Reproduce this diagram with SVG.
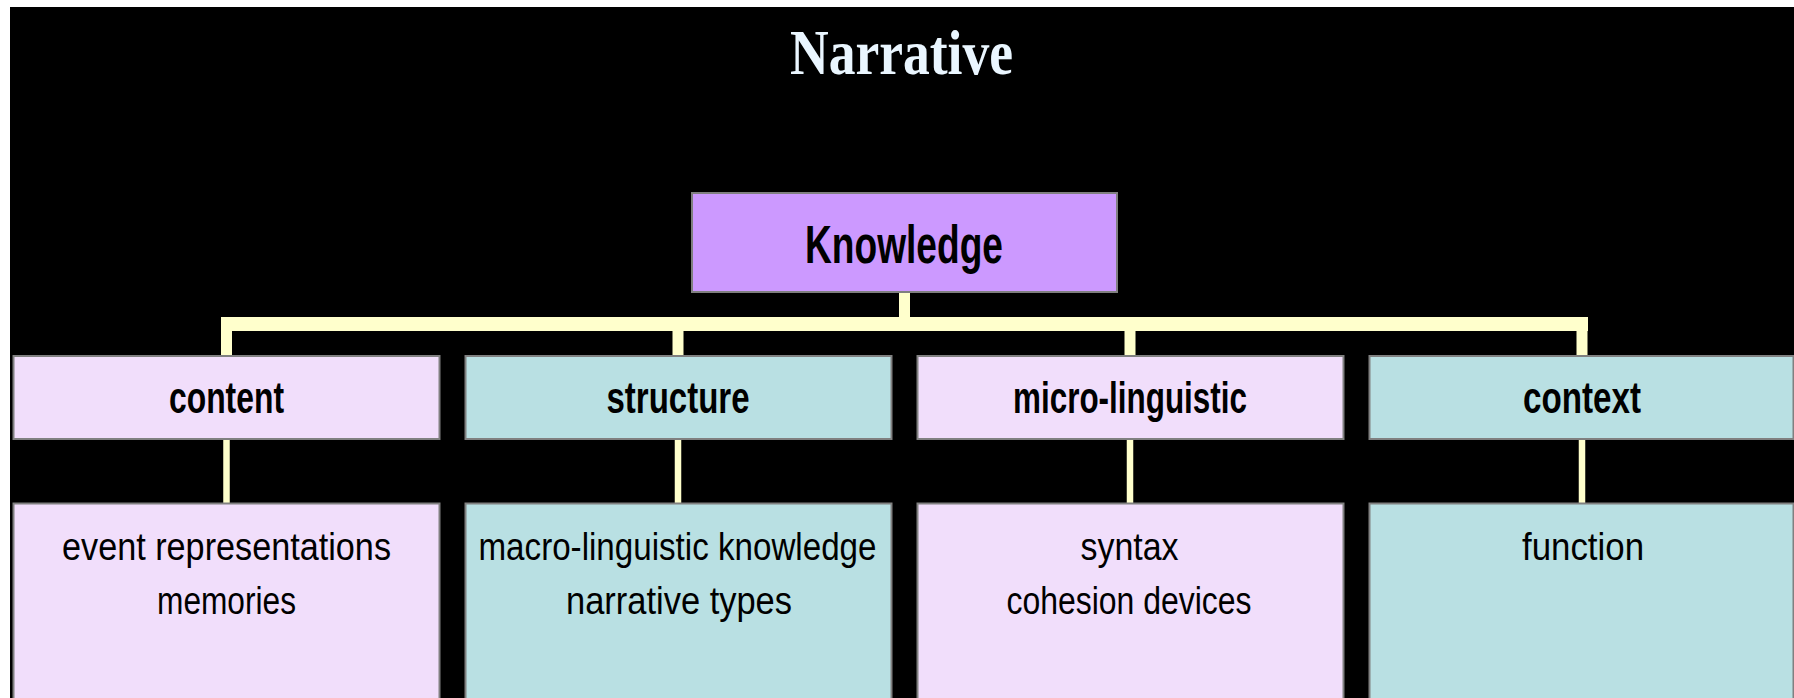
<svg xmlns="http://www.w3.org/2000/svg" width="1794" height="698" viewBox="0 0 1794 698">
  <style>
    .box { stroke: #808080; stroke-width: 2; }
    .root { fill: #CC99FF; }
    .lilac { fill: #F1DEFB; }
    .teal { fill: #B9E0E3; }
    .link { stroke: #FFFFCC; fill: none; stroke-linecap: butt; }
    .title { font-family: "Liberation Serif", "Times New Roman", serif; font-weight: bold; font-size: 64px; fill: #EAF6FF; text-anchor: middle; }
    .rootlabel { font-family: "Comic Sans MS", "Liberation Sans", Arial, sans-serif; font-weight: bold; font-size: 54px; fill: #000; text-anchor: middle; }
    .head { font-family: "Comic Sans MS", "Liberation Sans", Arial, sans-serif; font-weight: bold; font-size: 44px; fill: #000; text-anchor: middle; }
    .item { font-family: "Comic Sans MS", "Liberation Sans", Arial, sans-serif; font-size: 38px; fill: #000; text-anchor: middle; }
  </style>

  <!-- page background -->
  <rect x="0" y="0" width="1794" height="698" fill="#FFFFFF"/>
  <rect x="10" y="7" width="1784" height="691" fill="#000000"/>

  <text class="title" x="901.5" y="74" textLength="223" lengthAdjust="spacingAndGlyphs">Narrative</text>

  <!-- tree connectors -->
  <g id="connectors">
    <path class="link" stroke-width="14" d="M221 324 H1588"/>
    <path class="link" stroke-width="11" d="M904.5 292 V324"/>
    <path class="link" stroke-width="11" d="M226.5 324 V356 M678 324 V356 M1130 324 V356 M1582 324 V356"/>
    <path class="link" stroke-width="6.5" d="M226.5 439 V503 M678 439 V503 M1130 439 V503 M1582 439 V503"/>
  </g>

  <g id="knowledge">
    <rect class="box root" x="692" y="193" width="425" height="99"/>
    <text class="rootlabel" x="904" y="263" textLength="198" lengthAdjust="spacingAndGlyphs">Knowledge</text>
  </g>

  <g id="content">
    <rect class="box lilac" x="13.5" y="356" width="426" height="83"/>
    <text class="head" x="226.5" y="412.5" textLength="115" lengthAdjust="spacingAndGlyphs">content</text>
  </g>
  <g id="structure">
    <rect class="box teal" x="465.5" y="356" width="426" height="83"/>
    <text class="head" x="678" y="412.5" textLength="143" lengthAdjust="spacingAndGlyphs">structure</text>
  </g>
  <g id="micro-linguistic">
    <rect class="box lilac" x="917.5" y="356" width="426" height="83"/>
    <text class="head" x="1130" y="412.5" textLength="234" lengthAdjust="spacingAndGlyphs">micro-linguistic</text>
  </g>
  <g id="context">
    <rect class="box teal" x="1369.5" y="356" width="424" height="83"/>
    <text class="head" x="1582" y="412.5" textLength="118" lengthAdjust="spacingAndGlyphs">context</text>
  </g>

  <g id="content-items">
    <rect class="box lilac" x="13.5" y="503.5" width="426" height="210"/>
    <text class="item" x="226.5" y="560" textLength="329" lengthAdjust="spacingAndGlyphs">event representations</text>
    <text class="item" x="226.5" y="614" textLength="139" lengthAdjust="spacingAndGlyphs">memories</text>
  </g>
  <g id="structure-items">
    <rect class="box teal" x="465.5" y="503.5" width="426" height="210"/>
    <text class="item" x="677.5" y="560" textLength="398" lengthAdjust="spacingAndGlyphs">macro-linguistic knowledge</text>
    <text class="item" x="679" y="614" textLength="226" lengthAdjust="spacingAndGlyphs">narrative types</text>
  </g>
  <g id="micro-linguistic-items">
    <rect class="box lilac" x="917.5" y="503.5" width="426" height="210"/>
    <text class="item" x="1129.5" y="560" textLength="98" lengthAdjust="spacingAndGlyphs">syntax</text>
    <text class="item" x="1129" y="614" textLength="245" lengthAdjust="spacingAndGlyphs">cohesion devices</text>
  </g>
  <g id="context-items">
    <rect class="box teal" x="1369.5" y="503.5" width="424" height="210"/>
    <text class="item" x="1583" y="560" textLength="122" lengthAdjust="spacingAndGlyphs">function</text>
  </g>
</svg>
